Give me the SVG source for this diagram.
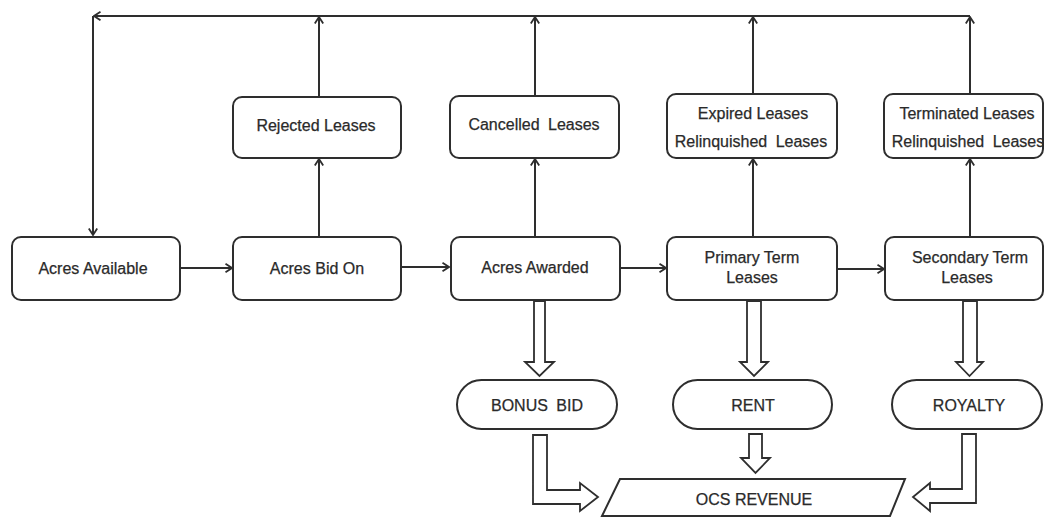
<svg xmlns="http://www.w3.org/2000/svg" width="1044" height="518" viewBox="0 0 1044 518">
  <style>
    .box { fill: #fff; stroke: #2e2e2e; stroke-width: 2; }
    .line { fill: none; stroke: #2e2e2e; stroke-width: 2; }
    .block { fill: #fff; stroke: #2e2e2e; stroke-width: 1.8; stroke-linejoin: miter; }
    .lbl { font-family: "Liberation Sans", Arial, sans-serif; font-size: 16px; fill: #2a2a2a; stroke: #2a2a2a; stroke-width: 0.25; text-anchor: middle; }
    .wide { word-spacing: 4px; }
  </style>
  <defs>
    <marker id="open" viewBox="0 0 8 10" refX="7" refY="5" markerWidth="8" markerHeight="10" markerUnits="userSpaceOnUse" orient="auto">
      <path d="M0.5,0.8 L7,5 L0.5,9.2" fill="none" stroke="#2e2e2e" stroke-width="1.8"/>
    </marker>
  </defs>

  <!-- connectors -->
  <g id="connectors">
    <!-- return loop back to available acres -->
    <line class="line" x1="970" y1="16" x2="94" y2="16" marker-end="url(#open)"/>
    <line class="line" x1="93" y1="16" x2="93" y2="235" marker-end="url(#open)"/>

    <!-- main flow -->
    <line class="line" x1="180" y1="268" x2="232" y2="268" marker-end="url(#open)"/>
    <line class="line" x1="401" y1="267" x2="449" y2="267" marker-end="url(#open)"/>
    <line class="line" x1="620" y1="268" x2="666" y2="268" marker-end="url(#open)"/>
    <line class="line" x1="837" y1="269" x2="884" y2="269" marker-end="url(#open)"/>

    <!-- lease outcomes -->
    <line class="line" x1="319" y1="237" x2="319" y2="159" marker-end="url(#open)"/>
    <line class="line" x1="319" y1="97" x2="319" y2="17" marker-end="url(#open)"/>
    <line class="line" x1="535" y1="237" x2="535" y2="159" marker-end="url(#open)"/>
    <line class="line" x1="535" y1="96" x2="535" y2="17" marker-end="url(#open)"/>
    <line class="line" x1="753" y1="237" x2="753" y2="159" marker-end="url(#open)"/>
    <line class="line" x1="753" y1="94" x2="753" y2="17" marker-end="url(#open)"/>
    <line class="line" x1="970" y1="237" x2="970" y2="159" marker-end="url(#open)"/>
    <line class="line" x1="970" y1="94" x2="970" y2="17" marker-end="url(#open)"/>

    <!-- revenue block arrows -->
    <path class="block" d="M534,301 L545,301 L545,362 L554,362 L539.5,376 L525,362 L534,362 Z"/>
    <path class="block" d="M747,301 L761,301 L761,362 L768,362 L754,376 L740,362 L747,362 Z"/>
    <path class="block" d="M963,301 L977,301 L977,362 L983,362 L969.5,376 L956,362 L963,362 Z"/>
    <path class="block" d="M533,435 L547,435 L547,490 L580,490 L580,483 L598,497 L580,511 L580,504 L533,504 Z"/>
    <path class="block" d="M749,434 L762,434 L762,458 L770,458 L755.5,473 L741,458 L749,458 Z"/>
    <path class="block" d="M962,434 L976,434 L976,503 L930,503 L930,511 L913,497 L930,483 L930,489 L962,489 Z"/>
  </g>

  <g id="acres-available">
    <rect class="box" x="12" y="237" width="168" height="63" rx="9"/>
    <text class="lbl" x="93" y="274">Acres Available</text>
  </g>
  <g id="acres-bid-on">
    <rect class="box" x="233" y="237" width="168" height="63" rx="9"/>
    <text class="lbl" x="317" y="274">Acres Bid On</text>
  </g>
  <g id="acres-awarded">
    <rect class="box" x="451" y="237" width="169" height="63" rx="9"/>
    <text class="lbl" x="535" y="273">Acres Awarded</text>
  </g>
  <g id="primary-term">
    <rect class="box" x="667" y="237" width="170" height="63" rx="9"/>
    <text class="lbl" x="752" y="263">Primary Term</text>
    <text class="lbl" x="752" y="283">Leases</text>
  </g>
  <g id="secondary-term">
    <rect class="box" x="885" y="237" width="158" height="63" rx="9"/>
    <text class="lbl" x="970" y="263">Secondary Term</text>
    <text class="lbl" x="967" y="283">Leases</text>
  </g>

  <g id="rejected">
    <rect class="box" x="233" y="97" width="168" height="61" rx="9"/>
    <text class="lbl" x="316" y="131">Rejected Leases</text>
  </g>
  <g id="cancelled">
    <rect class="box" x="450" y="96" width="169" height="62" rx="9"/>
    <text class="lbl wide" x="534" y="130">Cancelled Leases</text>
  </g>
  <g id="expired">
    <rect class="box" x="667" y="94" width="170" height="64" rx="9"/>
    <text class="lbl" x="753" y="119">Expired Leases</text>
    <text class="lbl wide" x="751" y="147">Relinquished Leases</text>
  </g>
  <g id="terminated">
    <rect class="box" x="884" y="94" width="159" height="64" rx="9"/>
    <text class="lbl" x="967" y="119">Terminated Leases</text>
    <text class="lbl wide" x="968" y="147">Relinquished Leases</text>
  </g>

  <g id="bonus-bid">
    <rect class="box" x="457" y="380" width="160" height="49" rx="24.5"/>
    <text class="lbl wide" x="537" y="411">BONUS BID</text>
  </g>
  <g id="rent">
    <rect class="box" x="673" y="380" width="159" height="49" rx="24.5"/>
    <text class="lbl" x="753" y="411">RENT</text>
  </g>
  <g id="royalty">
    <rect class="box" x="892" y="380" width="150" height="49" rx="24.5"/>
    <text class="lbl" x="969" y="411">ROYALTY</text>
  </g>

  <g id="ocs-revenue">
    <polygon class="box" points="620,479 905,479 890,516 602,516"/>
    <text class="lbl" x="754" y="505">OCS REVENUE</text>
  </g>
</svg>
